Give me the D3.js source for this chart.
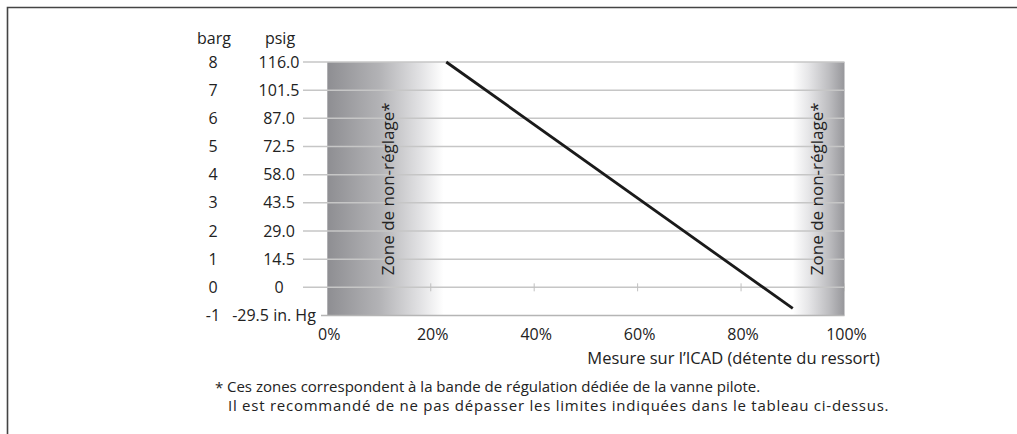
<!DOCTYPE html>
<html><head><meta charset="utf-8">
<script src="https://cdn.jsdelivr.net/npm/d3@7"></script>
<style>
html,body{margin:0;padding:0;background:#fff;}
svg text{font-family:"Open Sans","Noto Sans",sans-serif;fill:#222;}
</style></head>
<body>
<svg id="chart" width="1017" height="434"></svg>
<script>
// ---- data ----
const bargTicks = [-1, 0, 1, 2, 3, 4, 5, 6, 7, 8];
const psigLabels = ["-29.5 in. Hg", "0", "14.5", "29.0", "43.5", "58.0", "72.5", "87.0", "101.5", "116.0"];
const xTicks = [0, 20, 40, 60, 80, 100];
const lineX = [23, 90];
const lineY = [8, -0.75];
const zoneLeft = [0, 22.5];
const zoneRight = [90, 100];
const zoneLabel = "Zone de non-réglage*";
const xTitle = "Mesure sur l’ICAD (détente du ressort)";
const footnotes = ["Ces zones correspondent à la bande de régulation dédiée de la vanne pilote.",
                   "Il est recommandé de ne pas dépasser les limites indiquées dans le tableau ci-dessus."];

const svg = d3.select("#chart");
const x = d3.scaleLinear().domain([0, 100]).range([327.3, 844.5]);
const y = d3.scaleLinear().domain([-1, 8]).range([315.5, 62]);

// border
svg.append("path").attr("d", "M7.5,434 V7.5 H1017").attr("fill", "none")
  .attr("stroke", "#444").attr("stroke-width", 1.6);

// gradients
const defs = svg.append("defs");
const gl = defs.append("linearGradient").attr("id", "gl").attr("x1", "0").attr("x2", "1").attr("y1", "0").attr("y2", "0");
[[0, "#8e8e92"], [0.45, "#b3b3b6"], [0.8, "#e2e2e4"], [1, "#ffffff"]].forEach(s => gl.append("stop").attr("offset", s[0]).attr("stop-color", s[1]));
const gr = defs.append("linearGradient").attr("id", "gr").attr("x1", "0").attr("x2", "1").attr("y1", "0").attr("y2", "0");
[[0, "#ffffff"], [0.3, "#e6e6e8"], [0.7, "#bdbdc0"], [1, "#97979b"]].forEach(s => gr.append("stop").attr("offset", s[0]).attr("stop-color", s[1]));

svg.append("rect").attr("x", x(zoneLeft[0])).attr("width", x(zoneLeft[1]) - x(zoneLeft[0]))
  .attr("y", y(8)).attr("height", y(-1) - y(8)).attr("fill", "url(#gl)");
svg.append("rect").attr("x", x(zoneRight[0])).attr("width", x(zoneRight[1]) - x(zoneRight[0]))
  .attr("y", y(8)).attr("height", y(-1) - y(8)).attr("fill", "url(#gr)");

// gridlines
svg.append("g").selectAll("line").data(bargTicks).join("line")
  .attr("x1", d => d === -1 ? 321 : 303).attr("x2", x(100))
  .attr("y1", d => y(d)).attr("y2", d => y(d))
  .attr("stroke", d => d === -1 ? "#b5b5b5" : "#c6c6c6").attr("stroke-width", 1.5);

// small ticks on zero line
svg.append("g").selectAll("line").data(xTicks.filter(d => d > 0)).join("line")
  .attr("x1", d => x(d)).attr("x2", d => x(d))
  .attr("y1", y(0) - 4).attr("y2", y(0) + 4)
  .attr("stroke", "#c0c0c0").attr("stroke-width", 1);

// zone labels
[x(11.6), x(94.6)].forEach(cx => {
  svg.append("text").attr("transform", `translate(${cx},${y(3.5)}) rotate(-90)`)
    .attr("text-anchor", "middle").attr("dominant-baseline", "central")
    .style("font-size", "17px").text(zoneLabel);
});

// line
svg.append("path").datum(lineX.map((d, i) => [d, lineY[i]]))
  .attr("d", d3.line().x(d => x(d[0])).y(d => y(d[1])))
  .attr("fill", "none").attr("stroke", "#1a1a1a").attr("stroke-width", 2.8);

// y labels
const fs = "16px";
svg.append("text").attr("x", 214).attr("y", 44).attr("text-anchor", "middle").style("font-size", fs).text("barg");
svg.append("text").attr("x", 280).attr("y", 44).attr("text-anchor", "middle").style("font-size", fs).text("psig");
svg.append("g").selectAll("text").data(bargTicks).join("text")
  .attr("x", 213).attr("y", d => y(d)).attr("dy", "0.35em").attr("text-anchor", "middle")
  .style("font-size", fs).text(d => d3.format("d")(d).replace("−", "-"));
svg.append("g").selectAll("text").data(bargTicks).join("text")
  .attr("x", (d, i) => i === 0 ? 274 : 279).attr("y", d => y(d)).attr("dy", "0.35em").attr("text-anchor", "middle")
  .style("font-size", fs).text((d, i) => psigLabels[i]);

// x labels
svg.append("g").selectAll("text").data(xTicks).join("text")
  .attr("x", d => x(d) + 2).attr("y", 340).attr("text-anchor", "middle")
  .style("font-size", fs).text(d => d + "%");
svg.append("text").attr("x", 880).attr("y", 364).attr("text-anchor", "end")
  .style("font-size", "16.5px").text(xTitle);

// footnote
svg.append("text").attr("x", 215).attr("y", 393).style("font-size", "15px").text("*");
svg.append("text").attr("x", 227).attr("y", 392).style("font-size", "15px").text(footnotes[0]);
svg.append("text").attr("x", 228).attr("y", 411).style("font-size", "15px")
  .style("letter-spacing", "0.75px").text(footnotes[1]);
</script>
</body></html>
